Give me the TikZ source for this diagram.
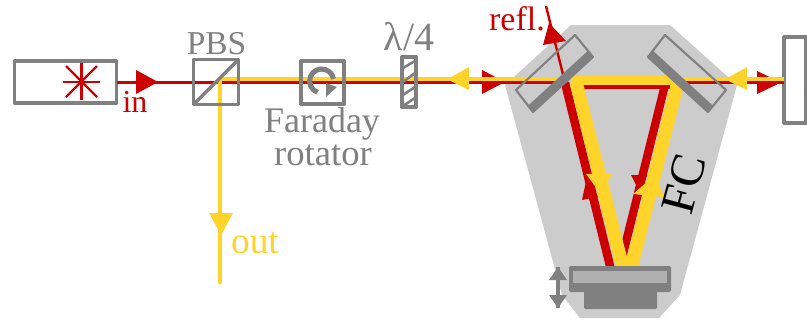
\documentclass[tikz,border=0pt]{standalone}
\usepackage{fontspec}
\setmainfont{Liberation Serif}
\definecolor{beamred}{HTML}{CC0000}
\definecolor{beamyellow}{HTML}{FFD42A}
\definecolor{optgray}{HTML}{808080}
\definecolor{cavgray}{HTML}{CCCCCC}
\definecolor{platgray}{HTML}{B0B0B0}
\tikzset{every picture/.style={line width=0.75pt}}
\tikzset{
  optbox/.style={draw=optgray, line width=2.4pt, line join=round, inner sep=0pt, outer sep=0pt},
  optthin/.style={draw=optgray, line width=1.6pt, line join=round},
  redthin/.style={draw=beamred, line width=2.4pt},
  yelthin/.style={draw=beamyellow, line width=2.9pt},
  lbl/.style={anchor=base, inner sep=0pt, font=\fontsize{24}{24}\selectfont},
}

\begin{document}
\begin{tikzpicture}[x=0.75pt,y=0.75pt,yscale=-1,xscale=1]
\useasboundingbox (0,0) rectangle (807,322);

%Shape: Cavity housing
\fill [cavgray] (505,85) -- (571,25) -- (670,25) -- (737,85) -- (680,295) -- (659,318) -- (580,318) -- (562,295) -- cycle ;

% Optical elements
\node (laser) [optbox, minimum width=76.5pt, minimum height=31.5pt] at (65.5,82) {};
\node (pbs) [optbox, minimum width=33.75pt, minimum height=33.75pt] at (216,82) {};
\node (faraday) [optbox, minimum width=32.25pt, minimum height=32.25pt] at (322.5,82.5) {};
\node (plate) [optbox, minimum width=10.5pt, minimum height=37.5pt] at (409,82) {};
\node (endmirror) [optbox, minimum width=16.5pt, minimum height=64.5pt] at (795,80) {};

% Beam points
\coordinate (cavin) at (565,82.5);
\coordinate (cavinY) at (565,79.3);
\coordinate (pbsmid) at (220,79.3);
\coordinate (outend) at (220,282);
\coordinate (reflend) at (546,6);
\coordinate (cavout) at (680,82.5);
\coordinate (cavoutY) at (680,79.3);
\coordinate (tipL) at (576,82);
\coordinate (tipR) at (678,82);
\coordinate (botL) at (623,268);
\coordinate (botR) at (631,268);

%Straight Lines: red beam
\draw [redthin] (laser.east |- cavin) -- (cavin) ;
\draw [redthin] (cavout) -- (endmirror.west |- cavout) ;
\draw [draw=beamred, line width=1.8pt] (cavin) -- (reflend) ;
\draw [draw=beamred, line width=6.4pt] (cavin) -- (610.5,268) ;
\draw [draw=beamred, line width=3pt] (583,87) -- (670,87) ;
\draw [draw=beamred, line width=6.2pt] (664.7,86) -- (619.5,268) ;

% Red arrow heads
\fill [beamred] (136,70) -- (158,82) -- (136,94) -- cycle ;
\fill [beamred] (482,70) -- (505,82) -- (482,94) -- cycle ;
\fill [beamred] (757,71) -- (781,82.5) -- (757,94) -- cycle ;
\fill [beamred] (543,45) -- (549,23) -- (566,41) -- cycle ;
\fill [beamred] (582,200) -- (587,177) -- (598,197) -- cycle ;
\fill [beamred] (631,175) -- (647,175) -- (640,193) -- cycle ;

%Straight Lines: yellow beam
\draw [yelthin] (pbsmid) -- (cavinY) ;
\draw [yelthin] (cavoutY) -- (endmirror.west |- cavoutY) ;
\draw [draw=beamyellow, line width=3.6pt, line cap=round] (pbsmid) -- (outend) ;
\draw [draw=beamyellow, line width=7pt] (572,80.5) -- (682,80.5) ;
\draw [draw=beamyellow, line width=9.8pt] (tipL) -- (botL) ;
\draw [draw=beamyellow, line width=9.8pt] (tipR) -- (botR) ;

% Yellow arrow heads
\fill [beamyellow] (209,213) -- (233,213) -- (221,235) -- cycle ;
\fill [beamyellow] (469,67) -- (447,79.3) -- (469,90) -- cycle ;
\fill [beamyellow] (747,67) -- (725,79.3) -- (747,90) -- cycle ;
\fill [beamyellow] (586,174) -- (613,173) -- (600,193) -- cycle ;
\fill [beamyellow] (633,194) -- (655,175) -- (664,197) -- cycle ;

% Redraw frames on top of the beams
\draw [optbox] (pbs.south west) -- (pbs.north east) ;
\node (pbsframe) [optbox, minimum width=33.75pt, minimum height=33.75pt] at (pbs) {};
\node (faradayframe) [optbox, minimum width=32.25pt, minimum height=32.25pt] at (faraday) {};
\node (plateframe) [optbox, minimum width=10.5pt, minimum height=37.5pt] at (plate) {};

% Plate hatching
\draw [optgray, line width=1.9pt] (403,68) -- (415,61) ;
\draw [optgray, line width=1.9pt] (403,82) -- (415,73) ;
\draw [optgray, line width=1.9pt] (403,95) -- (415,87) ;
\draw [optgray, line width=1.9pt] (403,106) -- (415,98) ;

% Faraday rotation mark
\draw [optgray, line width=3.8pt] (317.5,92.3) arc (110:350:12) ;
\fill [optgray] (326,83) -- (337,87) -- (326,97) -- cycle ;

%Shape: Laser star
\draw [draw=beamred, line width=1.7pt] (81.5,63) -- (81.5,100) ;
\draw [draw=beamred, line width=1.7pt] (63,82) -- (100,82) ;
\draw [draw=beamred, line width=1.7pt] (66,66) -- (97,97) ;
\draw [draw=beamred, line width=1.7pt] (66,97) -- (97,66) ;

%Shape: Input mirror
\draw [optthin] (575,35) -- (593,57) -- (533,112) -- (516,90) -- cycle ;
\fill [optgray] (593,57) -- (533,112) -- (527.6,106.1) -- (587.6,51.1) -- cycle ;
%Shape: Output mirror
\draw [optthin] (665,35) -- (648,57) -- (708,112) -- (726,90) -- cycle ;
\fill [optgray] (648,57) -- (708,112) -- (713.4,106.1) -- (653.4,51.1) -- cycle ;

%Shape: Curved mirror and mount
\fill [optgray, rounded corners=1pt] (584,285) rectangle (657,309) ;
\fill [optgray, rounded corners=1pt] (569,266) rectangle (671,292) ;
\fill [platgray] (573,271) rectangle (667,283) ;

%Shape: Translation arrow
\coordinate (transtop) at (558,267);
\coordinate (transbot) at (558,308);
\draw [optgray, line width=2.6pt] (transtop) -- (transbot) ;
\fill [optgray] (transtop) -- (567,280) -- (549,280) -- cycle ;
\fill [optgray] (transbot) -- (567,295) -- (549,295) -- cycle ;

% Text Node
\node (lblin) [lbl, text=beamred] at (135,112) {in};
% Text Node
\node (lblout) [lbl, text=beamyellow, font=\fontsize{28}{28}\selectfont] at (255,253) {out};
% Text Node
\node (lblpbs) [lbl, text=optgray, font=\fontsize{25}{25}\selectfont] at (216.5,54) {PBS};
% Text Node
\node (lblfaraday) [lbl, text=optgray, font=\fontsize{27}{27}\selectfont] at (322,132) {Faraday};
% Text Node
\node (lblrotator) [lbl, text=optgray, font=\fontsize{27.5}{27.5}\selectfont] at (323,165) {rotator};
% Text Node
\node (lblplate) [lbl, text=optgray, font=\fontsize{30}{30}\selectfont] at (409,50) {λ/4};
% Text Node
\node (lblrefl) [lbl, text=beamred, font=\fontsize{25.5}{25.5}\selectfont] at (517,30) {refl.};
% Text Node
\node (lblfc) [anchor=center, inner sep=0pt, rotate=75, font=\fontsize{36}{36}\selectfont] at (684,184) {FC};

\end{tikzpicture}
\end{document}
